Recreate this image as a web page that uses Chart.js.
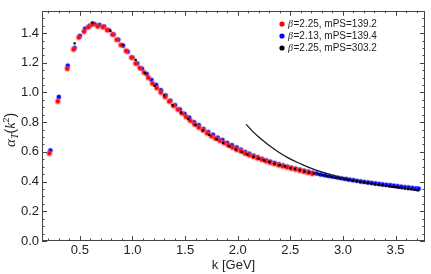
<!DOCTYPE html>
<html><head><meta charset="utf-8">
<script src="https://cdn.jsdelivr.net/npm/chart.js@4/dist/chart.umd.min.js"></script>
<style>html,body{margin:0;padding:0;background:#fff;}</style>
</head><body>
<canvas id="c" width="431" height="274"></canvas>
<script>
// ---- data ----
const redK = [0.21,0.29,0.38,0.44,0.49,0.54,0.58,0.62,0.67,0.72,0.76,0.81,0.85,0.89,0.94,0.99,1.03,1.07,1.11,1.15,1.19,1.23,1.27,1.31,1.35,1.39,1.43,1.47,1.51,1.55,1.59,1.63,1.67,1.71,1.75,1.79,1.83,1.87,1.91,1.95,1.99,2.03,2.07,2.11,2.15,2.19,2.23,2.27,2.31,2.35,2.39,2.43,2.47,2.51,2.55,2.59,2.63,2.67,2.71];
const redV = [0.59,0.94,1.16,1.29,1.37,1.41,1.44,1.46,1.445,1.44,1.42,1.39,1.355,1.32,1.28,1.235,1.195,1.165,1.135,1.10,1.06,1.03,1.00,0.97,0.94,0.91,0.885,0.86,0.835,0.81,0.785,0.765,0.745,0.725,0.705,0.69,0.675,0.66,0.645,0.63,0.615,0.605,0.59,0.578,0.567,0.557,0.547,0.537,0.527,0.518,0.51,0.503,0.496,0.489,0.481,0.474,0.467,0.46,0.453];

const blueK = [0.22,0.30,0.385,0.45,0.50,0.55,0.595,0.64,0.685,0.73,0.775,0.82,0.865,0.91,0.955,1.00,1.045,1.09,1.135,1.18,1.225,1.27,1.315,1.36,1.405,1.45,1.495,1.54,1.585,1.63,1.675,1.72,1.765,1.81,1.855,1.90,1.945,1.99,2.03,2.07,2.11,2.15,2.19,2.23,2.27,2.31,2.35,2.39,2.43,2.47,2.51,2.55,2.59,2.63,2.67,2.71,2.75,2.79,2.83,2.87,2.91,2.95,2.99,3.03,3.065,3.10,3.135,3.17,3.205,3.24,3.275,3.31,3.345,3.38,3.415,3.45,3.485,3.52,3.555,3.59,3.625,3.66,3.695,3.72];
const blueV = [0.61,0.97,1.18,1.30,1.38,1.43,1.45,1.46,1.455,1.445,1.42,1.39,1.355,1.315,1.275,1.235,1.195,1.16,1.125,1.085,1.05,1.015,0.98,0.945,0.915,0.885,0.855,0.83,0.80,0.78,0.755,0.735,0.715,0.695,0.68,0.66,0.645,0.63,0.615,0.60,0.587,0.575,0.564,0.553,0.543,0.534,0.525,0.517,0.509,0.501,0.494,0.487,0.480,0.473,0.467,0.460,0.454,0.448,0.443,0.437,0.432,0.427,0.422,0.417,0.413,0.409,0.405,0.401,0.398,0.394,0.391,0.387,0.384,0.381,0.378,0.375,0.372,0.369,0.366,0.363,0.360,0.357,0.354,0.352];

const blackK = [0.45,0.62,0.79,0.91,1.03,1.12,1.21,1.30,1.38,1.46,1.53,1.60,1.67,1.73,1.80,1.86,1.92,1.98,2.04,2.09,2.15,2.20,2.25,2.30,2.35,2.40,2.45,2.50,2.545,2.59,2.635,2.68,2.725,2.77,2.81,2.85,2.89,2.93,2.97,3.01,3.05,3.09,3.13,3.165,3.20,3.235,3.27,3.305,3.34,3.375,3.41,3.44,3.47,3.50,3.53,3.56,3.59,3.62,3.65,3.68,3.71];
const blackV = [1.33,1.47,1.415,1.32,1.22,1.13,1.045,0.98,0.915,0.865,0.82,0.78,0.745,0.715,0.685,0.66,0.637,0.617,0.598,0.583,0.567,0.555,0.543,0.532,0.521,0.511,0.502,0.493,0.485,0.477,0.469,0.462,0.455,0.448,0.442,0.436,0.430,0.425,0.420,0.415,0.410,0.405,0.401,0.397,0.393,0.389,0.385,0.381,0.378,0.374,0.371,0.368,0.365,0.362,0.359,0.356,0.353,0.350,0.347,0.344,0.341];

const curveK = [2.08,2.14,2.20,2.29,2.39,2.48,2.58,2.67,2.76,2.95,3.14,3.33,3.52,3.73];
const curveV = [0.785,0.74,0.70,0.648,0.598,0.56,0.525,0.498,0.474,0.434,0.404,0.38,0.36,0.342];

const seriesLabels = ['β=2.25, mPS=139.2','β=2.13, mPS=139.4','β=2.25, mPS=303.2'];
const xTitle = 'k [GeV]';
const xRange = [0.14, 3.78], yRange = [0, 1.55];
const xMajor = 0.5, xMinor = 0.1, yMajor = 0.2, yMinor = 0.05;

const pts = (ks, vs) => ks.map((k, i) => ({x: k, y: vs[i]}));

const frameColor = '#444', textColor = '#222';

const framePlugin = {
  id: 'frame',
  afterDatasetsDraw(chart) {
    const {ctx, chartArea: a, scales: {x, y}} = chart;
    ctx.save();
    ctx.strokeStyle = frameColor; ctx.lineWidth = 1;
    ctx.strokeRect(Math.round(a.left) + 0.5, Math.round(a.top) + 0.5, Math.round(a.right - a.left) - 1, Math.round(a.bottom - a.top) - 1);
    ctx.beginPath();
    const n0 = Math.ceil(x.min / xMinor - 1e-6), n1 = Math.floor(x.max / xMinor + 1e-6);
    for (let n = n0; n <= n1; n++) {
      const v = n * xMinor;
      const r = v / xMajor, major = Math.abs(r - Math.round(r)) < 1e-6;
      const L = major ? 5 : 2.5;
      const px = Math.round(x.getPixelForValue(v)) + 0.5;
      ctx.moveTo(px, a.bottom); ctx.lineTo(px, a.bottom - L);
      ctx.moveTo(px, a.top); ctx.lineTo(px, a.top + L);
    }
    const m0 = Math.ceil(y.min / yMinor - 1e-6), m1 = Math.floor(y.max / yMinor + 1e-6);
    for (let n = m0; n <= m1; n++) {
      const v = n * yMinor;
      const r = v / yMajor, major = Math.abs(r - Math.round(r)) < 1e-6;
      const L = major ? 5 : 2.5;
      const py = Math.round(y.getPixelForValue(v)) + 0.5;
      ctx.moveTo(a.left, py); ctx.lineTo(a.left + L, py);
      ctx.moveTo(a.right, py); ctx.lineTo(a.right - L, py);
    }
    ctx.stroke();
    ctx.restore();
  }
};

const yTitlePlugin = {
  id: 'ytitle',
  afterDraw(chart) {
    const ctx = chart.ctx, a = chart.chartArea;
    ctx.save();
    ctx.translate(11, (a.top + a.bottom) / 2 + 4);
    ctx.rotate(-Math.PI / 2);
    ctx.fillStyle = textColor; ctx.textBaseline = 'alphabetic';
    const parts = [
      ['α', 'italic 15px "Liberation Serif"', 0],
      ['T', 'italic 10px "Liberation Serif"', 3],
      ['(', '14px "Liberation Sans"', 0],
      ['k', 'italic 14px "Liberation Serif"', 0],
      ['2', '9px "Liberation Sans"', -6],
      [')', '14px "Liberation Sans"', 0]
    ];
    let w = 0;
    parts.forEach(p => { ctx.font = p[1]; w += ctx.measureText(p[0]).width; });
    let xx = -w / 2;
    parts.forEach(p => { ctx.font = p[1]; ctx.fillText(p[0], xx, 4 + p[2]); xx += ctx.measureText(p[0]).width; });
    ctx.restore();
  }
};

const legendPlugin = {
  id: 'lg',
  afterDraw(chart) {
    const ctx = chart.ctx;
    ctx.save();
    [0, 1, 2].forEach((i, row) => {
      const ds = chart.data.datasets[i];
      const yy = 24 + row * 12;
      ctx.beginPath(); ctx.arc(282, yy, 2.6, 0, Math.PI * 2);
      ctx.fillStyle = ds.backgroundColor; ctx.fill();
      ctx.textBaseline = 'middle'; ctx.fillStyle = textColor;
      ctx.font = 'italic 10px "Liberation Serif"';
      const b = ds.label[0];
      ctx.fillText(b, 288, yy);
      const bw = ctx.measureText(b).width;
      ctx.font = '10px "Liberation Sans"';
      ctx.fillText(ds.label.slice(1), 288 + bw + 0.5, yy);
    });
    ctx.restore();
  }
};

const tickFont = {family: '"Liberation Sans", Arial, sans-serif', size: 13};

new Chart(document.getElementById('c'), {
  type: 'scatter',
  data: {
    datasets: [
      {label: seriesLabels[0], data: pts(redK, redV), backgroundColor: '#ff0000', borderColor: 'rgba(255,90,90,0.4)', borderWidth: 2, pointRadius: 2.3, order: 2},
      {label: seriesLabels[1], data: pts(blueK, blueV), backgroundColor: '#0000ff', borderColor: 'rgba(100,100,255,0.35)', borderWidth: 1.5, pointRadius: 2.2, order: 3},
      {label: seriesLabels[2], data: pts(blackK, blackV), backgroundColor: '#000000', borderColor: '#000000', borderWidth: 0, pointRadius: 1.6, pointStyle: 'rect', order: 0},
      {label: 'curve', data: pts(curveK, curveV), showLine: true, borderColor: '#1a1a1a', borderWidth: 1.3, pointRadius: 0, cubicInterpolationMode: 'monotone', backgroundColor: '#1a1a1a', order: 1}
    ]
  },
  options: {
    responsive: false, animation: false, devicePixelRatio: 1,
    layout: {padding: {left: 0, right: 3, top: 1, bottom: 0}},
    plugins: {legend: {display: false}, tooltip: {enabled: false}},
    scales: {
      x: {
        type: 'linear', min: xRange[0], max: xRange[1],
        afterFit(s) { s.height = 33; },
        grid: {display: false, drawTicks: false}, border: {display: false},
        ticks: {stepSize: xMajor, includeBounds: false, padding: 2, font: tickFont, color: textColor, maxRotation: 0, autoSkip: false, callback: v => Number(v).toFixed(1)},
        title: {display: true, text: xTitle, font: tickFont, color: textColor, padding: {top: 0, bottom: 1}}
      },
      y: {
        type: 'linear', min: yRange[0], max: yRange[1],
        afterFit(s) { s.width = 42; },
        grid: {display: false, drawTicks: false}, border: {display: false},
        ticks: {stepSize: yMajor, includeBounds: false, padding: 3, font: tickFont, color: textColor, autoSkip: false, callback: v => Number(v).toFixed(1)}
      }
    }
  },
  plugins: [framePlugin, yTitlePlugin, legendPlugin]
});
</script>
</body></html>
